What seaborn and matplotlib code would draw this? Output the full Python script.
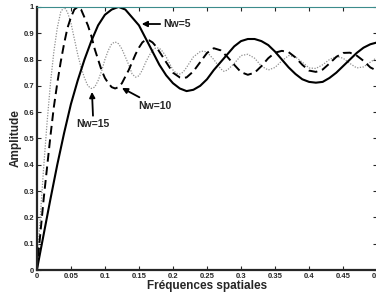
import numpy as np
import pandas as pd
import seaborn as sns
import matplotlib
matplotlib.use('Agg')
import matplotlib.pyplot as plt

# Nw=5 (solid)
x_nw5 = [0, 0.01, 0.02, 0.03, 0.04, 0.05, 0.06, 0.07, 0.08, 0.09, 0.10, 0.11, 0.12,
         0.13, 0.14, 0.15, 0.16, 0.17, 0.18, 0.19, 0.20, 0.21, 0.22, 0.23, 0.24, 0.25,
         0.26, 0.27, 0.28, 0.29, 0.30, 0.31, 0.32, 0.33, 0.34, 0.35, 0.36, 0.37, 0.38,
         0.39, 0.40, 0.41, 0.42, 0.43, 0.44, 0.45, 0.46, 0.47, 0.48, 0.49, 0.50]
y_nw5 = [0, 0.135, 0.27, 0.40, 0.52, 0.63, 0.72, 0.80, 0.87, 0.93, 0.97, 0.99, 1.00,
         0.99, 0.96, 0.93, 0.88, 0.83, 0.78, 0.74, 0.71, 0.69, 0.68, 0.685, 0.70, 0.725,
         0.76, 0.79, 0.82, 0.85, 0.87, 0.878, 0.878, 0.87, 0.855, 0.83, 0.80, 0.77, 0.745,
         0.725, 0.715, 0.712, 0.715, 0.73, 0.75, 0.775, 0.80, 0.825, 0.845, 0.858, 0.865]

# Nw=10 (dashed)
x_nw10 = [0, 0.005, 0.01, 0.015, 0.02, 0.025, 0.03, 0.035, 0.04, 0.045, 0.05, 0.055,
          0.06, 0.065, 0.07, 0.075, 0.08, 0.085, 0.09, 0.095, 0.10, 0.105, 0.11, 0.115,
          0.12, 0.125, 0.13, 0.135, 0.14, 0.145, 0.15, 0.155, 0.16, 0.165, 0.17, 0.175,
          0.18, 0.19, 0.20, 0.21, 0.215, 0.22, 0.23, 0.24, 0.25, 0.26, 0.27, 0.28, 0.29,
          0.30, 0.31, 0.32, 0.33, 0.34, 0.35, 0.36, 0.37, 0.38, 0.39, 0.40, 0.41, 0.42,
          0.43, 0.44, 0.45, 0.46, 0.47, 0.48, 0.49, 0.50]
y_nw10 = [0, 0.135, 0.27, 0.39, 0.51, 0.62, 0.71, 0.79, 0.86, 0.92, 0.96, 0.99,
          1.0, 0.99, 0.96, 0.93, 0.89, 0.84, 0.80, 0.76, 0.73, 0.71, 0.695, 0.69,
          0.695, 0.71, 0.735, 0.76, 0.79, 0.82, 0.845, 0.865, 0.875, 0.873, 0.865, 0.85,
          0.83, 0.79, 0.75, 0.732, 0.73, 0.732, 0.755, 0.79, 0.825, 0.843, 0.835, 0.81, 0.78,
          0.752, 0.742, 0.75, 0.775, 0.805, 0.826, 0.833, 0.828, 0.808, 0.78, 0.758, 0.753, 0.762,
          0.785, 0.81, 0.825, 0.826, 0.815, 0.795, 0.77, 0.757]

# Nw=15 (dotted)
x_nw15 = [0, 0.005, 0.01, 0.015, 0.02, 0.025, 0.03, 0.035, 0.04, 0.045, 0.05, 0.055,
          0.06, 0.065, 0.07, 0.075, 0.08, 0.085, 0.09, 0.095, 0.10, 0.105, 0.11, 0.115,
          0.12, 0.125, 0.13, 0.135, 0.14, 0.145, 0.15, 0.155, 0.16, 0.165, 0.17, 0.175,
          0.18, 0.185, 0.19, 0.195, 0.20, 0.205, 0.21, 0.215, 0.22, 0.23, 0.24, 0.245,
          0.25, 0.26, 0.27, 0.275, 0.28, 0.29, 0.30, 0.31, 0.32, 0.33, 0.34, 0.35, 0.36,
          0.37, 0.38, 0.39, 0.40, 0.41, 0.42, 0.43, 0.44, 0.45, 0.46, 0.47, 0.48, 0.49, 0.50]
y_nw15 = [0, 0.2, 0.39, 0.56, 0.71, 0.83, 0.92, 0.98, 1.0, 0.98, 0.94, 0.88,
          0.82, 0.77, 0.73, 0.70, 0.69, 0.695, 0.72, 0.755, 0.80, 0.835, 0.86, 0.867,
          0.86, 0.84, 0.81, 0.78, 0.745, 0.733, 0.738, 0.76, 0.79, 0.815, 0.835, 0.845,
          0.843, 0.83, 0.81, 0.785, 0.76, 0.748, 0.745, 0.752, 0.77, 0.81, 0.83, 0.832,
          0.828, 0.80, 0.765, 0.755, 0.76, 0.785, 0.815, 0.82, 0.805, 0.775, 0.76, 0.77, 0.795,
          0.815, 0.81, 0.79, 0.768, 0.766, 0.78, 0.80, 0.812, 0.805, 0.785, 0.768, 0.772, 0.79, 0.808]

x_ticks = [0, 0.05, 0.1, 0.15, 0.2, 0.25, 0.3, 0.35, 0.4, 0.45, 0.5]
x_tick_labels = ['0', '0.05', '0.1', '0.15', '0.2', '0.25', '0.3', '0.35', '0.4', '0.45', '0.5']
y_ticks = [0, 0.1, 0.2, 0.3, 0.4, 0.5, 0.6, 0.7, 0.8, 0.9, 1]
y_tick_labels = ['0', '0.1', '0.2', '0.3', '0.4', '0.5', '0.6', '0.7', '0.8', '0.9', '1']

sns.set_style('ticks')
plt.rcParams['font.family'] = ['Liberation Sans', 'DejaVu Sans']
plt.rcParams['font.weight'] = 'bold'

fig = plt.figure(figsize=(3.76, 3.07), dpi=100)
ax = fig.add_axes([0.098, 0.1205, 0.905, 0.857])

sns.lineplot(x=x_nw15, y=y_nw15, ax=ax, color='#909090', lw=0.9, linestyle=(0, (1, 1.2)))
sns.lineplot(x=x_nw10, y=y_nw10, ax=ax, color='black', lw=1.4, linestyle=(0, (4.5, 2.5)))
sns.lineplot(x=x_nw5, y=y_nw5, ax=ax, color='black', lw=1.5)

ax.set_xlim(0, 0.5)
ax.set_ylim(0, 1)
ax.set_xticks(x_ticks)
ax.set_xticklabels(x_tick_labels)
ax.set_yticks(y_ticks)
ax.set_yticklabels(y_tick_labels)
ax.tick_params(direction='in', length=3, width=0.8, labelsize=5.5, pad=2,
               top=True, right=True)
for side in ['left', 'bottom']:
    ax.spines[side].set_linewidth(1.6)
for side in ['right', 'top']:
    ax.spines[side].set_linewidth(0.8)
ax.spines['top'].set_color('#3c8c8c')

ax.set_xlabel('Fréquences spatiales', fontsize=8.5, fontweight='bold', labelpad=0)
ax.set_ylabel('Amplitude', fontsize=8.5, fontweight='bold', labelpad=1)

arrow = dict(arrowstyle='-|>', color='black', lw=1.3, mutation_scale=8, shrinkA=0, shrinkB=0)
ax.annotate('Nw=5', xy=(0.154, 0.935), xytext=(0.186, 0.935), fontsize=7.5,
            fontweight='bold', va='center', ha='left', arrowprops=arrow)
ax.annotate('Nw=10', xy=(0.125, 0.692), xytext=(0.149, 0.625), fontsize=7.5,
            fontweight='bold', va='center', ha='left', arrowprops=arrow)
ax.annotate('Nw=15', xy=(0.081, 0.677), xytext=(0.083, 0.555), fontsize=7.5,
            fontweight='bold', va='center', ha='center', arrowprops=arrow)

fig.savefig('out.png', dpi=100)
